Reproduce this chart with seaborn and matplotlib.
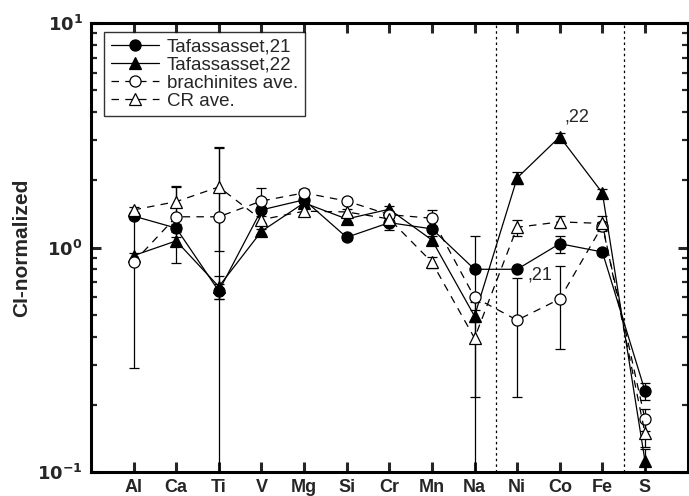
import numpy as np
import pandas as pd
import matplotlib
matplotlib.use("Agg")
import matplotlib.pyplot as plt
import seaborn as sns
from matplotlib.ticker import LogLocator, FixedLocator, NullFormatter

elements = ["Al", "Ca", "Ti", "V", "Mg", "Si", "Cr", "Mn", "Na", "Ni", "Co", "Fe", "S"]

taf21 = [1.38, 1.22, 0.64, 1.47, 1.63, 1.11, 1.29, 1.21, 0.80, 0.80, 1.04, 0.955, 0.23]
taf21_err = [0.03, 0.05, 0.05, 0.04, 0.05, 0.03, 0.09, 0.04, 0.0, 0.0, 0.09, 0.03, 0.02]

taf22 = [0.92, 1.07, 0.67, 1.18, 1.58, 1.34, 1.48, 1.08, 0.495, 2.04, 3.11, 1.75, 0.112]
taf22_err = [0.03, 0.04, 0.08, 0.03, 0.05, 0.04, 0.05, 0.04, 0.03, 0.12, 0.12, 0.07, 0.015]

brach = [0.86, 1.37, 1.37, 1.61, 1.75, 1.61, 1.40, 1.35, 0.60, 0.475, 0.59, 1.25, 0.172]
brach_err_lo = [0.57, 0.52, 1.33, 0.1, 0.07, 0.05, 0.05, 0.1, 0.52, 0.26, 0.235, 0.05, 0.02]
brach_err_hi = [0.57, 0.50, 1.43, 0.23, 0.07, 0.05, 0.05, 0.12, 0.52, 0.26, 0.235, 0.05, 0.02]

cr = [1.47, 1.60, 1.86, 1.33, 1.45, 1.44, 1.34, 0.86, 0.395, 1.23, 1.30, 1.28, 0.149]
cr_err = [0.04, 0.25, 0.9, 0.05, 0.05, 0.04, 0.05, 0.05, 0.18, 0.10, 0.08, 0.10, 0.02]

labels = ["Tafassasset,21", "Tafassasset,22", "brachinites ave.", "CR ave."]

pos = np.arange(1, len(elements) + 1)

sns.set_style("ticks")
plt.rcParams['font.family'] = ['Liberation Sans', 'DejaVu Sans']

fig = plt.figure(figsize=(6.89, 4.96), dpi=100)
ax = fig.add_axes([0.132, 0.048, 0.866, 0.906])
ax.set_yscale("log", nonpositive="clip")

series = [
    (taf21, labels[0], "o", "black", "-", (np.array(taf21_err), np.array(taf21_err))),
    (taf22, labels[1], "^", "black", "-", (np.array(taf22_err), np.array(taf22_err))),
    (brach, labels[2], "o", "white", "--", (np.array(brach_err_lo), np.array(brach_err_hi))),
    (cr, labels[3], "^", "white", "--", (np.array(cr_err), np.array(cr_err))),
]

for vals, lab, mk, fc, ls, err in series:
    df = pd.DataFrame({"pos": pos, "val": vals})
    ax.errorbar(pos, vals, yerr=[err[0], err[1]], fmt="none", ecolor="black",
                elinewidth=0.9, capsize=3.5, capthick=0.9, zorder=2)
    kw = dict(dashes=(6, 5)) if ls == "--" else {}
    sns.lineplot(data=df, x="pos", y="val", ax=ax, color="black", lw=0.9,
                 marker=mk, markersize=8, markerfacecolor=fc,
                 markeredgecolor="black", markeredgewidth=0.9,
                 label=lab, zorder=3, **kw)

ax.axvline(9.5, color="black", lw=0.9, ls=(0, (2, 2.5)), zorder=1)
ax.axvline(12.5, color="black", lw=0.9, ls=(0, (2, 2.5)), zorder=1)

ax.text(11.1, 3.8, ",22", fontsize=13, ha="left", va="center")
ax.text(10.25, 0.755, ",21", fontsize=13, ha="left", va="center")

ax.set_xlim(0, 14)
ax.set_ylim(0.1, 10)
ax.xaxis.set_major_locator(FixedLocator(pos))
ax.set_xticklabels(elements, fontsize=13, fontweight="bold")
ax.set_yticks([0.1, 1, 10])
ax.set_yticklabels([r"$\mathbf{10^{-1}}$", r"$\mathbf{10^{0}}$", r"$\mathbf{10^{1}}$"], fontsize=13)
ax.yaxis.set_minor_locator(LogLocator(base=10, subs=np.arange(2, 10)))
ax.yaxis.set_minor_formatter(NullFormatter())

ax.tick_params(axis="both", which="major", direction="in", length=7, width=2.2,
               top=True, right=True, pad=6)
ax.tick_params(axis="y", which="minor", direction="in", length=4, width=1.6,
               left=True, right=True)
ax.tick_params(axis="x", which="major", pad=5)
for s in ax.spines.values():
    s.set_linewidth(2.2)
    s.set_color("black")

ax.set_xlabel("")
ax.set_ylabel("CI-normalized", fontsize=15, fontweight="bold", labelpad=4)

leg = ax.legend(loc="upper left", bbox_to_anchor=(0.022, 0.98), fontsize=13.5,
                frameon=True, fancybox=False, edgecolor="black",
                handlelength=2.6, handletextpad=0.4, borderpad=0.35,
                labelspacing=0.05, borderaxespad=0.0)
leg.get_frame().set_linewidth(1.0)

fig.savefig("out.png", dpi=100)
